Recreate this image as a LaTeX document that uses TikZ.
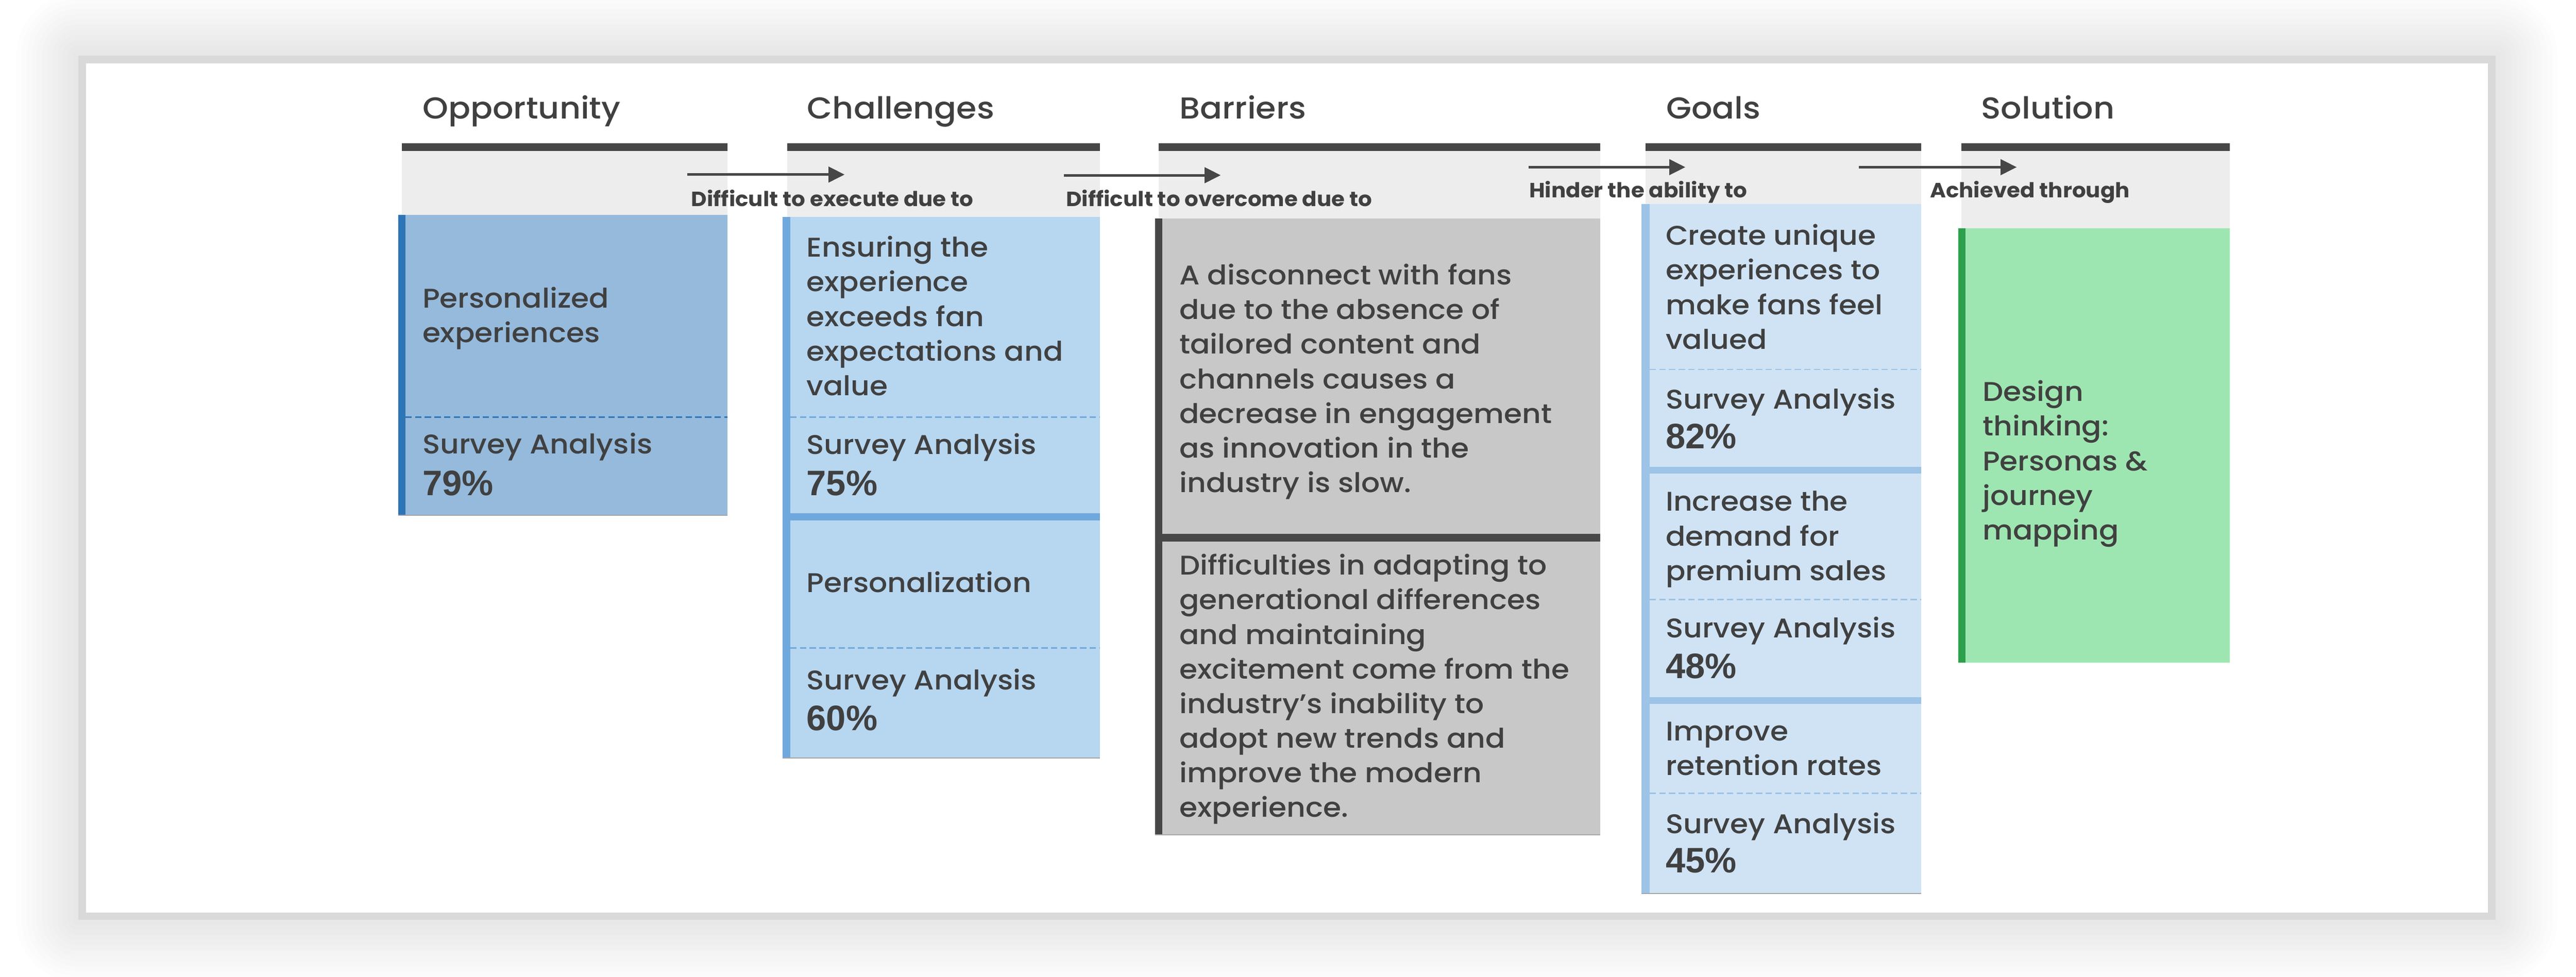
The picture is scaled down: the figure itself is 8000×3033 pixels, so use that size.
\documentclass[tikz,border=0pt]{standalone}
\usepackage{fontspec}
\IfFontExistsTF{Poppins Medium}
  {\setmainfont{Poppins Medium}[FakeStretch=1.08]}
  {\setmainfont{Poppins}[FakeStretch=1.08]}
\newfontfamily\lblfam{Poppins}[FakeStretch=1.05]
\newfontfamily\numfont{Liberation Sans}
\usetikzlibrary{arrows.meta}
\definecolor{txt}{HTML}{404040}
\definecolor{barc}{HTML}{474747}
\definecolor{band}{HTML}{EDEDED}
\definecolor{framec}{HTML}{D9D9D9}
\definecolor{oppfill}{HTML}{95BADC}
\definecolor{oppacc}{HTML}{2E75B6}
\definecolor{chalfill}{HTML}{B7D6F0}
\definecolor{chalacc}{HTML}{6FA8DC}
\definecolor{barfill}{HTML}{C8C8C8}
\definecolor{baracc}{HTML}{474747}
\definecolor{goalfill}{HTML}{CFE3F4}
\definecolor{goalacc}{HTML}{9DC3E6}
\definecolor{solfill}{HTML}{9EE6B1}
\definecolor{solacc}{HTML}{2CA04C}
\definecolor{edgec}{HTML}{A6A6A6}
\newcommand\bodyfont{\fontsize{8.4}{10.75}\selectfont}
\newcommand\titlefont{\fontsize{9.4}{11}\selectfont}
\newcommand\lblfont{\lblfam\fontsize{6.4}{8}\selectfont\bfseries}
\newcommand\pctfont{\numfont\fontsize{11}{13}\selectfont\bfseries}
\newcommand\ml[1]{\begin{tabular}[t]{@{}l@{}}#1\end{tabular}}
\tikzset{
  ttl/.style={anchor=base west, inner sep=0pt, text=txt, font=\titlefont},
  body/.style={anchor=base west, inner sep=0pt, text=txt, font=\bodyfont},
  pct/.style={anchor=base west, inner sep=0pt, text=txt, font=\pctfont},
  lbl/.style={anchor=base west, inner sep=0pt, text=txt, font=\lblfont},
  flow/.style={draw=barc, line width=0.8pt, -{Triangle[length=5pt,width=4.8pt]}},
  dashdiv/.style={line width=0.45pt, dash pattern=on 2pt off 1pt},
  bottomedge/.style={draw=edgec, line width=0.35pt}
}
\begin{document}
\begin{tikzpicture}[x=0.1pt,y=-0.1pt]
\useasboundingbox (0,0) rectangle (8000,3033);
\fill[white] (0,0) rectangle (8000,3033);
% shadow
\foreach \i in {1,...,12}{
  \fill[black, opacity=0.007, rounded corners=\i*1.6pt] (243-\i*16,172-\i*16) rectangle (7750+\i*16,2856+\i*16);
}
% frame
\fill[framec] (243,172) rectangle (7750,2856);
\fill[white] (267,196) rectangle (7727,2833);

% header bars and bands
\fill[barc] (1248,445) rectangle (2259,468);
\fill[band] (1248,468) rectangle (2259,667);
\fill[barc] (2444,445) rectangle (3416,468);
\fill[band] (2444,468) rectangle (3416,673);
\fill[barc] (3599,445) rectangle (4969,468);
\fill[band] (3599,468) rectangle (4969,678);
\fill[barc] (5110,445) rectangle (5967,468);
\fill[band] (5110,468) rectangle (5967,634);
\fill[barc] (6091,445) rectangle (6925,468);
\fill[band] (6091,468) rectangle (6925,708);

% Opportunity box
\fill[oppfill] (1237,667) rectangle (2259,1600);
\fill[oppacc] (1237,667) rectangle (1259,1600);
\draw[dashdiv, oppacc] (1259,1295) -- (2259,1295);
\draw[bottomedge] (1237,1600) -- (2259,1600);

% Challenges box
\fill[chalfill] (2431,673) rectangle (3416,2353);
\fill[chalacc] (2431,673) rectangle (2454,2353);
\draw[dashdiv, chalacc] (2454,1295) -- (3416,1295);
\fill[chalacc] (2454,1594) rectangle (3416,1616);
\draw[dashdiv, chalacc] (2454,2012) -- (3416,2012);
\draw[bottomedge] (2431,2353) -- (3416,2353);

% Barriers box
\fill[barfill] (3587,678) rectangle (4969,2592);
\fill[baracc] (3587,678) rectangle (3610,2592);
\fill[baracc] (3610,1658) rectangle (4969,1682);
\draw[bottomedge] (3587,2592) -- (4969,2592);

% Goals box
\fill[goalfill] (5098,634) rectangle (5966,2774);
\fill[goalacc] (5098,634) rectangle (5123,2774);
\draw[dashdiv, goalacc] (5123,1147) -- (5966,1147);
\fill[goalacc] (5123,1450) rectangle (5966,1471);
\draw[dashdiv, goalacc] (5123,1861) -- (5966,1861);
\fill[goalacc] (5123,2164) rectangle (5966,2186);
\draw[dashdiv, goalacc] (5123,2463) -- (5966,2463);
\draw[bottomedge] (5098,2774) -- (5966,2774);

% Solution box
\fill[solfill] (6081,708) rectangle (6925,2057);
\fill[solacc] (6081,708) rectangle (6104,2057);

% titles
\node[ttl] (t1) at (1311,369) {Opportunity};
\node[ttl] (t2) at (2505,369) {Challenges};
\node[ttl] (t3) at (3661,369) {Barriers};
\node[ttl] (t4) at (5173,369) {Goals};
\node[ttl] (t5) at (6151,369) {Solution};

% flow arrows
\coordinate (a1s) at (2135,542); \coordinate (a1e) at (2623,542);
\coordinate (a2s) at (3304,544); \coordinate (a2e) at (3791,544);
\coordinate (a3s) at (4747,519); \coordinate (a3e) at (5234,519);
\coordinate (a4s) at (5773,519); \coordinate (a4e) at (6263,519);
\draw[flow] (a1s) -- (a1e);
\draw[flow] (a2s) -- (a2e);
\draw[flow] (a3s) -- (a3e);
\draw[flow] (a4s) -- (a4e);
\node[lbl] (l1) at (2145,640) {Difficult to execute due to};
\node[lbl] (l2) at (3309,640) {Difficult to overcome due to};
\node[lbl] (l3) at (4747,613) {Hinder the ability to};
\node[lbl] (l4) at (5992,613) {Achieved through};

% Opportunity texts
\node[body] (o1) at (1310,956) {\ml{Personalized\\experiences}};
\node[body] (o2) at (1310,1409) {Survey Analysis};
\node[pct] (o3) at (1310,1538) {79\%};

% Challenges texts
\node[body] (c1) at (2503,798) {\ml{Ensuring the\\experience\\exceeds fan\\expectations and\\value}};
\node[body] (c2) at (2503,1411) {Survey Analysis};
\node[pct] (c3) at (2503,1538) {75\%};
\node[body] (c4) at (2503,1839) {Personalization};
\node[body] (c5) at (2503,2141) {Survey Analysis};
\node[pct] (c6) at (2503,2268) {60\%};

% Barriers texts
\node[body] (b1) at (3661,884) {\ml{A disconnect with fans\\due to the absence of\\tailored content and\\channels causes a\\decrease in engagement\\as innovation in the\\industry is slow.}};
\node[body] (b2) at (3661,1785) {\ml{Difficulties in adapting to\\generational differences\\and maintaining\\excitement come from the\\industry’s inability to\\adopt new trends and\\improve the modern\\experience.}};

% Goals texts
\node[body] (g1) at (5171,761) {\ml{Create unique\\experiences to\\make fans feel\\valued}};
\node[body] (g2) at (5171,1269) {Survey Analysis};
\node[pct] (g3) at (5171,1392) {82\%};
\node[body] (g4) at (5171,1587) {\ml{Increase the\\demand for\\premium sales}};
\node[body] (g5) at (5171,1980) {Survey Analysis};
\node[pct] (g6) at (5171,2107) {48\%};
\node[body] (g7) at (5171,2300) {\ml{Improve\\retention rates}};
\node[body] (g8) at (5171,2588) {Survey Analysis};
\node[pct] (g9) at (5171,2709) {45\%};

% Solution text
\node[body] (s1) at (6155,1246) {\ml{Design\\thinking:\\Personas \&\\journey\\mapping}};
\end{tikzpicture}
\end{document}
